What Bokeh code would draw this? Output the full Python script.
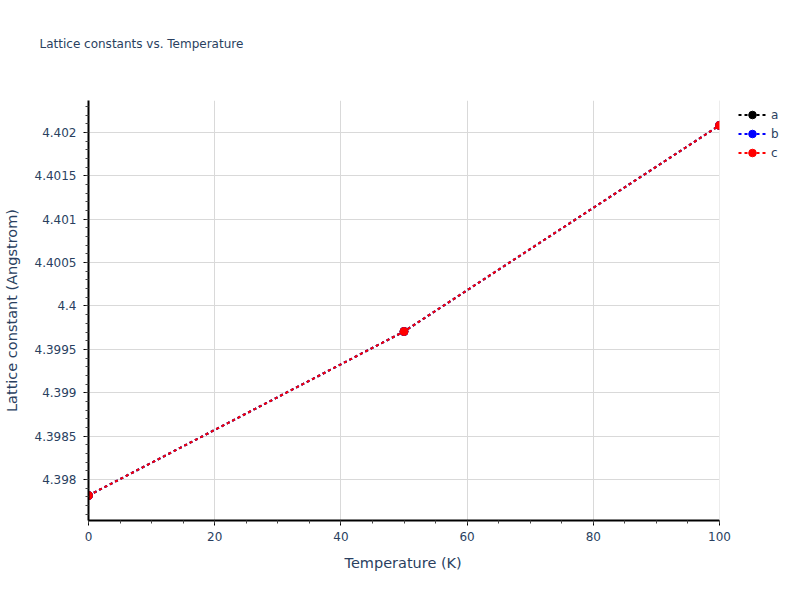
from bokeh.plotting import figure
from bokeh.models import Range1d, Legend, LegendItem, SingleIntervalTicker, Title, BoxAnnotation
from bokeh.embed import file_html
from bokeh.resources import INLINE

temperature = [0, 50, 100]
a_vals = [4.397815, 4.399706, 4.402082]
b_vals = [4.397815, 4.399706, 4.402082]
c_vals = [4.397815, 4.399706, 4.402082]
series_names = ["a", "b", "c"]
series_colors = ["black", "blue", "red"]
x_min, x_max = 0, 100

FONT = "DejaVu Sans"
TXT = "#2a3f5f"

# frame extends to the right edge so the legend can sit beside the axes;
# data area 0..100 spans 631 px of the 696 px frame
x_end = x_max * 696.0 / 631.0

p = figure(width=784, height=584, output_backend="svg", toolbar_location=None,
           x_range=Range1d(x_min, x_end), y_range=Range1d(4.397527, 4.402369),
           min_border_left=88, min_border_right=0, min_border_top=100, min_border_bottom=64)
p.outline_line_color = None

spacer = Title(text=" ", text_font=FONT, text_font_size="1px", standoff=47)
p.add_layout(spacer, "above")
t = Title(text="Lattice constants vs. Temperature", text_font=FONT, text_font_size="12px",
          text_color=TXT, text_font_style="normal", align="left", offset=-49, standoff=0)
p.add_layout(t, "above")

p.xaxis.ticker = SingleIntervalTicker(interval=20, num_minor_ticks=4)
p.yaxis.ticker = SingleIntervalTicker(interval=0.0005, num_minor_ticks=5)
p.xaxis.bounds = (x_min, x_max)

for ax in (p.xaxis[0], p.yaxis[0]):
    ax.axis_line_color = "black"
    ax.axis_line_width = 2
    ax.major_tick_line_color = "black"
    ax.minor_tick_line_color = "#444444"
    ax.major_tick_out = 5
    ax.major_tick_in = 0
    ax.minor_tick_out = 3
    ax.minor_tick_in = 0
    ax.major_label_text_font = FONT
    ax.major_label_text_font_size = "12px"
    ax.major_label_text_color = TXT
    ax.axis_label_text_font = FONT
    ax.axis_label_text_font_size = "14.5px"
    ax.axis_label_text_font_style = "normal"
    ax.axis_label_text_color = TXT

p.yaxis.axis_label = "Lattice constant (Angstrom)"
p.xaxis.major_label_standoff = 6
p.yaxis.major_label_standoff = 7
p.yaxis.axis_label_standoff = 12

# x-axis title centred under the data area (0..100), not the whole frame
xt = Title(text="Temperature (K)", text_font=FONT, text_font_size="14.5px",
           text_color=TXT, text_font_style="normal", align="left", offset=256,
           standoff=20, vertical_align="middle")
p.add_layout(xt, "below")

p.grid.grid_line_color = "#d9d9d9"
p.grid.grid_line_width = 1

items = []
for name, vals, col in zip(series_names, [a_vals, b_vals, c_vals], series_colors):
    r1 = p.line(temperature, vals, line_color=col, line_width=2, line_dash="3 3")
    r2 = p.scatter(temperature, vals, size=8, fill_color=col, line_color=col)
    items.append(LegendItem(label=name, renderers=[r1, r2]))

# blank out the area to the right of the data region (outside the axes)
p.add_layout(BoxAnnotation(left=x_max, fill_color="white", fill_alpha=1.0, line_color=None))

legend = Legend(items=items, location=(650, 358), margin=0, padding=5, spacing=0,
                glyph_width=28, glyph_height=19, label_height=19,
                label_text_font=FONT, label_text_font_size="12px", label_text_color=TXT,
                border_line_color=None, background_fill_alpha=0)
p.add_layout(legend, "center")

open("out.html", "w").write(file_html(p, INLINE))
